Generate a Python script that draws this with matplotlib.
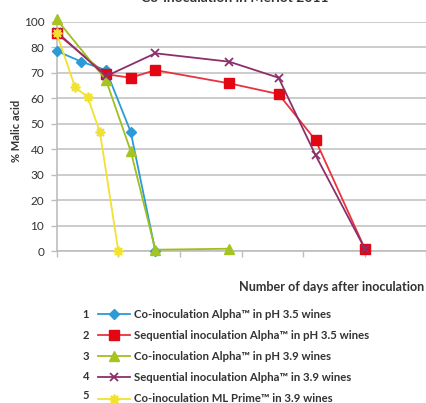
import matplotlib
matplotlib.use("Agg")
import matplotlib.pyplot as plt

plt.rcParams['font.family'] = ['Lato', 'DejaVu Sans']

# ---- data ----
days_1 = [0, 4, 8, 12, 16]
vals_1 = [78.5, 74.3, 71.0, 46.8, 0]
days_2 = [0, 8, 12, 16, 28, 36, 42, 50]
vals_2 = [85.4, 69.4, 68.0, 71.0, 65.8, 61.6, 43.5, 0.9]
days_3 = [0, 8, 12, 16, 28]
vals_3 = [90.9, 67.1, 39.3, 0.5, 0.9]
days_4 = [0, 8, 16, 28, 36, 42, 50]
vals_4 = [86.0, 68.6, 77.6, 74.3, 68.0, 37.6, 0.9]
days_5 = [0, 3, 5, 7, 10]
vals_5 = [85.4, 64.2, 60.5, 46.8, 0]

series_labels = [
    "Co-inoculation Alpha\u2122 in pH 3.5 wines",
    "Sequential inoculation Alpha\u2122 in pH 3.5 wines",
    "Co-inoculation Alpha\u2122 in pH 3.9 wines",
    "Sequential inoculation Alpha\u2122 in 3.9 wines",
    "Co-inoculation ML Prime\u2122 in 3.9 wines",
]
series_numbers = ["1", "2", "3", "4", "5"]
y_ticks = [0, 10, 20, 30, 40, 50, 60, 70, 80, 90]
y_tick_labels = ["0", "10", "20", "30", "40", "50", "60", "70", "80", "100"]
x_ticks = [0, 10, 20, 30, 40, 50, 60]

W, H = 427, 403
fig = plt.figure(figsize=(W / 100, H / 100), dpi=100)
ax = fig.add_axes([56.7 / W, (H - 251) / H, (426.5 - 56.7) / W, (251 - 21.7) / H])

styles = [
    dict(color="#2a9bd6", marker="D", ms=5.5, mfc="#2a9bd6", mec="#2a9bd6"),
    dict(color="#e8333e", marker="s", ms=7.5, mfc="#e30613", mec="#e30613"),
    dict(color="#9fbf1e", marker="^", ms=7, mfc="#a6c41f", mec="#a6c41f"),
    dict(color="#8c2f6b", marker="x", ms=5.5, mew=1.3, mfc="#8c2f6b", mec="#8c2f6b"),
    dict(color="#f1e230", marker=(8, 2, 0), ms=7, mew=1.3, mfc="#f1e230", mec="#f1e230"),
]
data = [(days_1, vals_1), (days_2, vals_2), (days_3, vals_3), (days_4, vals_4), (days_5, vals_5)]

handles = []
for (d, v), st, lab in zip(data, styles, series_labels):
    ln, = ax.plot(d, v, lw=1.3, clip_on=False, zorder=3, label=lab, **st)
    handles.append(ln)

ax.set_xlim(0, 60)
ax.set_ylim(0, 90)
ax.set_yticks(y_ticks)
ax.set_yticklabels(y_tick_labels)
ax.set_xticks(x_ticks)
ax.set_xticklabels([])
ax.yaxis.grid(True, color="#c4c4c4", lw=1.2)
ax.set_axisbelow(True)
for s in ["top", "right"]:
    ax.spines[s].set_visible(False)
for s in ["left", "bottom"]:
    ax.spines[s].set_color("#bdbdbd")
    ax.spines[s].set_linewidth(1.2)
ax.tick_params(axis="both", colors="#bdbdbd", length=4, width=1.0, labelcolor="#333333", labelsize=8.5)
ax.tick_params(axis="y", pad=5)

fig.text(17 / W, 1 - 131 / H, "% Malic acid", rotation=90, ha="center", va="center",
         fontsize=8, fontweight="bold", color="#333333")
fig.text(424 / W, 1 - 287 / H, "Number of days after inoculation", ha="right", va="center",
         fontsize=9.1, fontweight="bold", color="#333333")
fig.text(235 / W, 1 - 2.5 / H, "Co-inoculation in Merlot 2011", ha="center", va="baseline",
         fontsize=10, fontweight="bold", color="#333333")

leg = fig.legend(handles=handles, labels=series_labels, loc="upper left",
                 bbox_to_anchor=(98 / W, 1 - 308.5 / H), frameon=False,
                 fontsize=8.2, handlelength=2.8, handletextpad=0.35,
                 labelspacing=0.9, borderpad=0, borderaxespad=0)
for t in leg.get_texts():
    t.set_fontweight("bold")
    t.set_color("#333333")

row_y = [315, 335.5, 356, 376, 395.5]
for n, yy in zip(series_numbers, row_y):
    fig.text(86 / W, 1 - yy / H, n, ha="center", va="center", fontsize=8,
             fontweight="bold", color="#333333")

fig.savefig("out.png", dpi=100)
